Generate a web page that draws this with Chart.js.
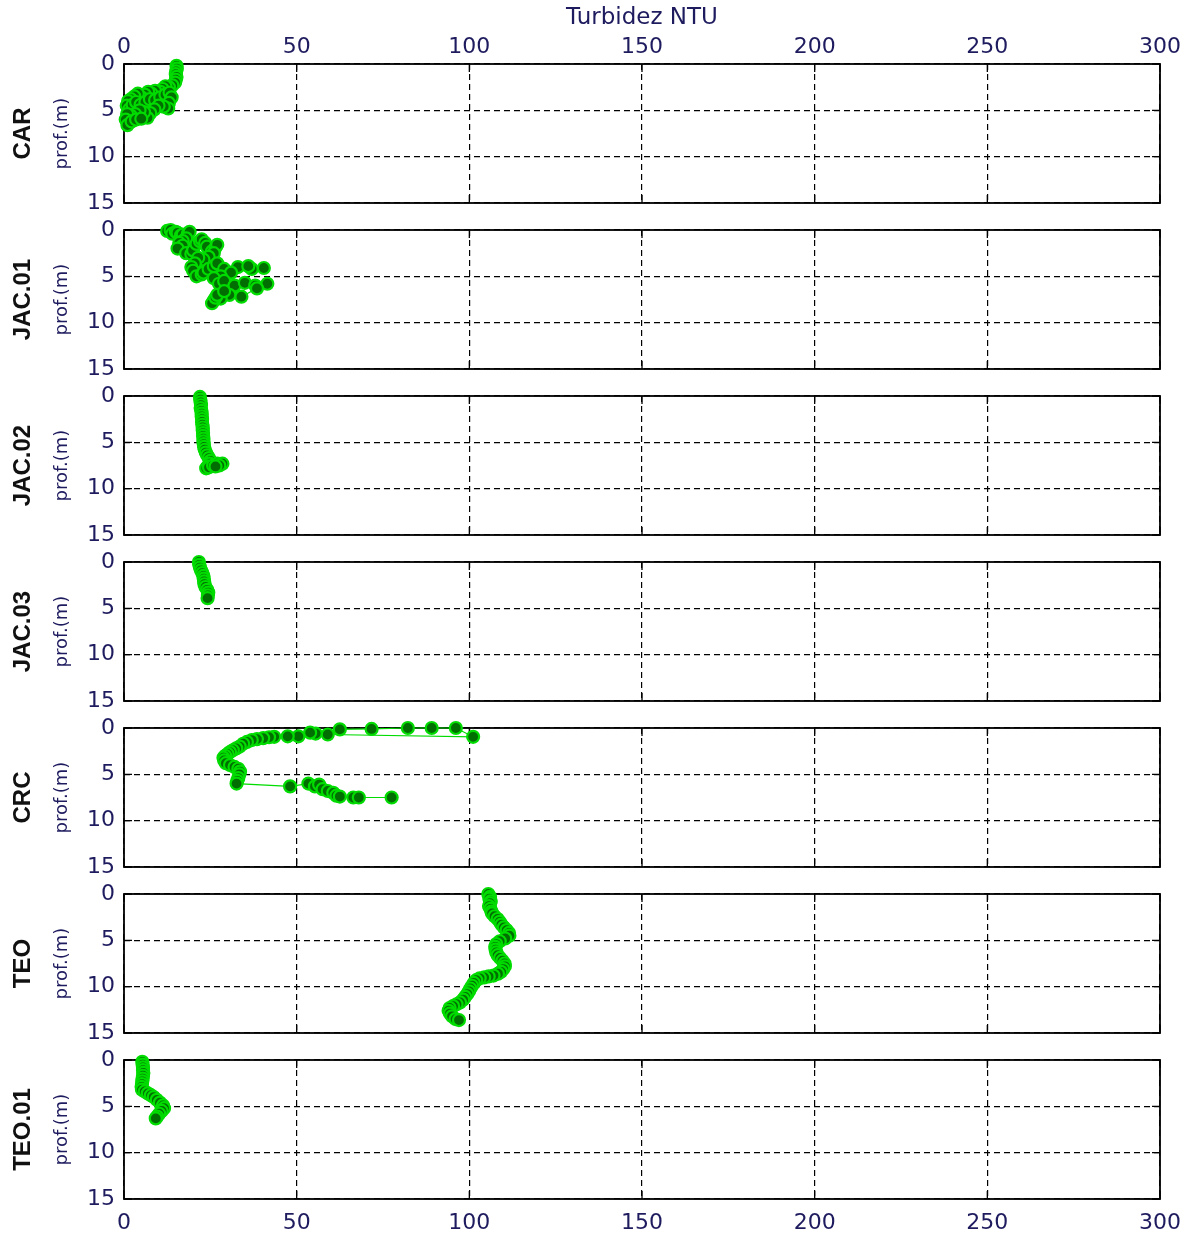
<!DOCTYPE html>
<html>
<head>
<meta charset="utf-8">
<title>Turbidez NTU</title>
<script src="https://cdn.jsdelivr.net/npm/chart.js@4.4.1/dist/chart.umd.min.js"></script>
<style>
  html, body { margin: 0; padding: 0; background: #ffffff; }
  #wrap { position: relative; width: 1199px; height: 1240px; overflow: hidden; background: #ffffff; }
  #wrap canvas { position: absolute; left: 0; top: 0; }
</style>
</head>
<body>
<div id="wrap"></div>
<script>
// ---- data: turbidity (NTU) against depth (m) for each station ----
const stations = ['CAR', 'JAC.01', 'JAC.02', 'JAC.03', 'CRC', 'TEO', 'TEO.01'];
const xTickValues = [0, 50, 100, 150, 200, 250, 300];
const yTickValues = [0, 5, 10, 15];

const carTurb  = [15.2,15.3,15.1,15.0,15.2,15.0,14.8,14.0,13.0,12.0,11.2,10.5,9.6,9.0,8.0,7.0,6.0,5.0,4.0,3.0,2.0,1.2,0.8,1.5,2.5,3.5,4.8,6.2,7.5,9.0,10.5,12.0,13.2,13.8,13.0,12.8,11.5,10.0,8.8,7.6,6.8,5.8,4.5,3.2,2.0,0.9,0.5,1.0,2.2,3.5,5.0];
const carDepth = [0.2,0.5,0.8,1.1,1.4,1.7,2.0,2.3,2.5,2.4,2.7,3.0,3.3,2.9,3.2,3.0,3.3,3.6,3.2,3.5,3.8,4.0,4.5,4.9,4.4,4.1,4.4,4.1,3.8,3.9,3.6,3.3,3.1,3.6,4.2,4.8,4.6,4.5,4.9,5.3,5.8,5.2,5.0,5.4,5.6,5.4,6.0,6.6,6.2,6.0,5.9];

const jac01Turb  = [12.5,13.5,14.0,15.0,15.5,16.5,17.0,18.5,19.0,18.0,17.0,16.0,17.0,15.5,18.0,19.5,20.0,21.0,22.0,22.5,23.5,24.0,25.5,26.5,27.0,26.0,24.5,23.0,21.5,20.5,19.5,20.0,21.0,22.5,23.0,24.5,26.0,27.0,29.0,33.0,37.0,40.5,36.0,31.0,28.0,26.0,27.5,29.0,32.0,35.0,38.0,41.5,38.5,34.0,30.5,28.0,26.0,25.5,26.5,27.0,29.0];
const jac01Depth = [0.1,0.0,0.4,0.2,0.3,0.6,0.5,0.4,0.2,0.9,1.2,1.4,1.7,2.0,2.5,2.6,2.2,1.5,1.2,1.0,1.4,1.8,2.3,1.9,1.6,2.5,2.9,3.2,3.0,3.6,4.0,4.4,5.0,4.8,4.6,4.2,3.9,3.6,4.2,4.0,4.2,4.1,3.9,4.6,5.0,5.2,5.8,5.5,6.0,5.7,6.0,5.8,6.3,7.2,7.0,7.4,7.6,7.9,7.3,7.0,6.6,7.8];

const jac02Turb  = [22.0,22.1,22.2,22.3,22.2,22.4,22.5,22.5,22.6,22.6,22.7,22.8,22.8,22.9,22.9,23.0,23.0,23.1,23.2,23.4,23.7,24.1,24.6,25.0,24.8,24.2,23.8,24.6,25.8,27.0,28.5,27.6,26.5];
const jac02Depth = [0.1,0.4,0.7,1.0,1.3,1.6,1.9,2.2,2.5,2.8,3.1,3.4,3.7,4.0,4.3,4.6,4.9,5.2,5.5,5.8,6.1,6.4,6.7,7.0,7.3,7.6,7.8,7.7,7.5,7.3,7.3,7.5,7.6];

const jac03Turb  = [21.7,21.8,22.0,22.3,22.7,23.0,23.1,23.2,23.3,23.6,24.1,24.4,24.3,24.2];
const jac03Depth = [0.0,0.3,0.6,0.9,1.2,1.5,1.8,2.1,2.4,2.7,3.0,3.3,3.6,3.9];

const crcTurb  = [62.5,71.7,82.2,89.1,96.1,101.1,59.0,55.5,53.9,50.5,47.4,43.5,42.0,40.3,38.5,37.0,35.6,34.5,33.5,32.5,31.5,30.7,30.0,29.3,28.8,29.0,29.5,30.7,32.0,33.1,33.6,33.4,33.1,32.8,32.6,48.1,53.4,55.3,56.5,57.5,59.0,60.6,61.5,62.5,66.4,68.0,77.5];
const crcDepth = [0.15,0.1,0.0,0.0,0.0,0.95,0.7,0.6,0.5,0.9,0.9,0.95,1.0,1.1,1.2,1.3,1.5,1.7,2.0,2.2,2.4,2.6,2.8,3.0,3.2,3.5,3.8,4.0,4.2,4.4,4.7,5.0,5.4,5.7,6.0,6.3,6.0,6.3,6.1,6.6,6.8,7.0,7.3,7.4,7.5,7.5,7.5];

const teoTurb  = [105.5,106.0,105.8,106.2,106.0,105.7,106.1,106.4,106.6,107.3,108.2,108.8,109.3,110.0,110.8,111.5,111.6,110.4,108.8,107.8,107.5,107.6,107.8,108.2,108.9,109.6,110.2,110.3,109.8,109.2,108.3,107.0,105.6,104.3,103.0,102.0,101.3,100.8,100.3,99.9,99.4,98.8,98.2,97.3,96.3,95.3,94.3,94.0,94.4,95.0,96.0,97.0];
const teoDepth = [0.0,0.3,0.5,0.8,1.0,1.3,1.6,1.9,2.1,2.4,2.7,3.0,3.3,3.6,3.9,4.2,4.5,4.8,5.1,5.4,5.7,6.0,6.3,6.6,6.9,7.2,7.5,7.8,8.1,8.4,8.6,8.8,8.9,9.0,9.1,9.3,9.6,9.9,10.2,10.5,10.8,11.1,11.4,11.7,11.9,12.1,12.3,12.6,12.9,13.2,13.5,13.6];

const teo01Turb  = [5.3,5.4,5.5,5.5,5.6,5.5,5.4,5.3,5.2,5.1,5.2,6.0,6.9,7.8,8.6,9.5,10.4,11.3,11.6,10.9,10.2,9.6,9.2];
const teo01Depth = [0.2,0.5,0.8,1.1,1.4,1.7,2.0,2.3,2.6,2.9,3.2,3.4,3.6,3.8,4.0,4.3,4.6,4.9,5.2,5.5,5.8,6.1,6.3];

const turbSeries  = [carTurb, jac01Turb, jac02Turb, jac03Turb, crcTurb, teoTurb, teo01Turb];
const depthSeries = [carDepth, jac01Depth, jac02Depth, jac03Depth, crcDepth, teoDepth, teo01Depth];

// ---- page layout ----
const W = 1199, H = 1240;
const PLOT_LEFT = 124, PLOT_RIGHT = 1160, PLOT_H = 139, PANEL_STEP = 166, FIRST_TOP = 64;
const Y_AXIS_W = 60;
const INK = '#1e1b5e';
const LINE_GREEN = '#00dc00';
const FACE_GREEN = '#006e00';
const TICK_FONT = { family: 'DejaVu Sans', size: 22 };

// axes box, inward tick marks, station name and depth label
const framePlugin = {
  id: 'frame',
  beforeDatasetsDraw(chart, args, opts) {
    const { ctx, chartArea: a } = chart;
    const xs = chart.scales.x, ys = chart.scales.y;
    ctx.save();
    ctx.strokeStyle = '#000';
    ctx.lineWidth = 1.8;
    ctx.setLineDash([]);
    ctx.strokeRect(a.left, a.top, a.right - a.left, a.bottom - a.top);
    const tl = 8;
    ctx.lineWidth = 1.3;
    ctx.beginPath();
    xs.ticks.forEach(t => {
      const px = xs.getPixelForValue(t.value);
      ctx.moveTo(px, a.top); ctx.lineTo(px, a.top + tl);
      ctx.moveTo(px, a.bottom); ctx.lineTo(px, a.bottom - tl);
    });
    ys.ticks.forEach(t => {
      const py = ys.getPixelForValue(t.value);
      ctx.moveTo(a.left, py); ctx.lineTo(a.left + tl, py);
      ctx.moveTo(a.right, py); ctx.lineTo(a.right - tl, py);
    });
    ctx.stroke();

    const cy = (a.top + a.bottom) / 2;
    ctx.textAlign = 'center';
    ctx.textBaseline = 'middle';
    ctx.save();
    ctx.translate(23, cy);
    ctx.rotate(-Math.PI / 2);
    ctx.fillStyle = '#111';
    ctx.font = 'bold 24px "Liberation Sans", Arial, sans-serif';
    ctx.fillText(opts.station, 0, 0);
    ctx.restore();
    ctx.save();
    ctx.translate(62, cy);
    ctx.rotate(-Math.PI / 2);
    ctx.fillStyle = INK;
    ctx.font = '18px "DejaVu Sans", sans-serif';
    ctx.fillText('prof.(m)', 0, 0);
    ctx.restore();

    if (opts.showTitle) {
      ctx.fillStyle = INK;
      ctx.font = '23px "DejaVu Sans", sans-serif';
      ctx.textBaseline = 'middle';
      ctx.fillText('Turbidez NTU', (a.left + a.right) / 2, a.top - 46);
    }
    ctx.restore();
  }
};

const wrap = document.getElementById('wrap');

stations.forEach((name, i) => {
  const canvas = document.createElement('canvas');
  canvas.width = W; canvas.height = H;
  canvas.style.width = W + 'px'; canvas.style.height = H + 'px';
  wrap.appendChild(canvas);

  const top = FIRST_TOP + i * PANEL_STEP;
  const isFirst = i === 0;
  const isLast = i === stations.length - 1;
  // labelled axes get a tall box so their tick labels are not clipped
  const xAxisH = isFirst ? 34 : (isLast ? H - top - PLOT_H : 20);
  const points = turbSeries[i].map((v, k) => ({ x: v, y: depthSeries[i][k] }));

  new Chart(canvas, {
    type: 'scatter',
    data: {
      datasets: [{
        data: points,
        showLine: true,
        borderColor: LINE_GREEN,
        borderWidth: 1.2,
        pointRadius: 6,
        pointBorderWidth: 2.2,
        pointBackgroundColor: FACE_GREEN,
        pointBorderColor: LINE_GREEN,
        pointHoverRadius: 6,
        tension: 0,
        clip: false
      }]
    },
    options: {
      responsive: false,
      animation: false,
      devicePixelRatio: 1,
      events: [],
      layout: {
        padding: {
          left: PLOT_LEFT - Y_AXIS_W,
          right: W - PLOT_RIGHT,
          top: isFirst ? top - xAxisH : top,
          bottom: isFirst ? H - top - PLOT_H : H - top - PLOT_H - xAxisH
        }
      },
      plugins: {
        legend: { display: false },
        tooltip: { enabled: false },
        frame: { station: name, showTitle: isFirst }
      },
      scales: {
        x: {
          type: 'linear',
          position: isFirst ? 'top' : 'bottom',
          min: xTickValues[0],
          max: xTickValues[xTickValues.length - 1],
          afterBuildTicks: s => { s.ticks = xTickValues.map(v => ({ value: v })); },
          afterFit: s => { s.height = xAxisH; },
          grid: { color: '#000', lineWidth: 1.2, drawTicks: false },
          border: { display: false, dash: [6, 4] },
          ticks: {
            display: isFirst || isLast,
            color: INK,
            font: TICK_FONT,
            padding: isFirst ? 4 : 11,
            maxRotation: 0,
            autoSkip: false
          }
        },
        y: {
          type: 'linear',
          reverse: true,
          min: yTickValues[0],
          max: yTickValues[yTickValues.length - 1],
          afterBuildTicks: s => { s.ticks = yTickValues.map(v => ({ value: v })); },
          afterFit: s => { s.width = Y_AXIS_W; },
          grid: { color: '#000', lineWidth: 1.2, drawTicks: false },
          border: { display: false, dash: [6, 4] },
          ticks: {
            color: INK,
            font: TICK_FONT,
            padding: 9,
            autoSkip: false
          }
        }
      }
    },
    plugins: [framePlugin]
  });
});
</script>
</body>
</html>
